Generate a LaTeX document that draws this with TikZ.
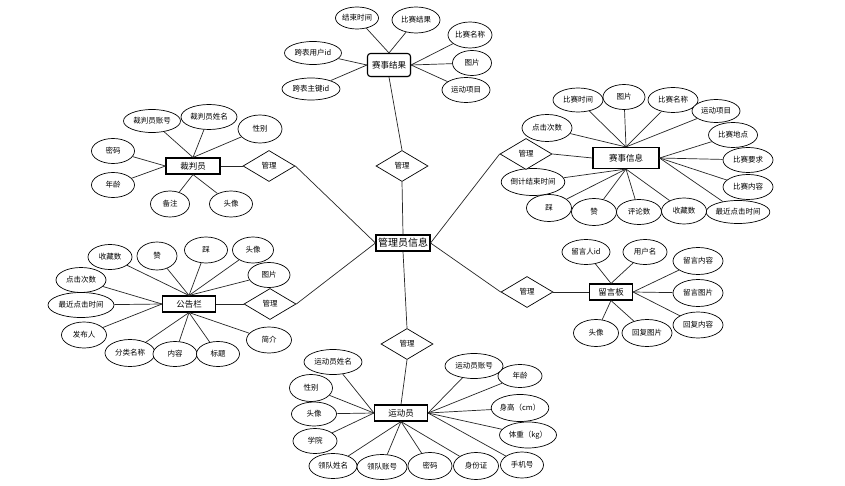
\documentclass[tikz,border=0pt]{standalone}
\usepackage{fontspec}
\newfontfamily\cjk{Noto Sans CJK SC}
\usetikzlibrary{shapes.geometric,shadows}
\tikzset{
  attr/.style={ellipse, draw=black, fill=white, line width=0.7pt, inner sep=0pt,
    minimum width=45pt, minimum height=25pt, font=\cjk\fontsize{7.5}{8}\selectfont},
  ent/.style={rectangle, draw=black, fill=white, line width=1.1pt, inner sep=0pt,
    minimum height=16pt, font=\cjk\fontsize{8.5}{9}\selectfont,
    drop shadow={shadow xshift=0.8pt, shadow yshift=-0.8pt, opacity=0.35}},
  rel/.style={diamond, draw=black, fill=white, line width=0.7pt, inner sep=0pt,
    minimum width=52pt, minimum height=31pt, font=\cjk\fontsize{7.5}{8}\selectfont},
  lnk/.style={draw=black!85, line width=0.7pt},
}
\begin{document}
\begin{tikzpicture}[x=1pt,y=-1pt]
\useasboundingbox[fill=white] (0,0) rectangle (845,486);

% centre
\node[ent, minimum width=54pt, font=\cjk\fontsize{10}{11}\selectfont] (admin) at (403,243) {管理员信息};

% ---------- 赛事结果 ----------
\node[ent, rounded corners=3pt, minimum width=43pt, minimum height=23pt] (ssjg) at (389,65) {赛事结果};
\node[attr, minimum width=43pt, minimum height=22pt] (js) at (357,18) {结束时间};
\node[attr, minimum width=48pt, minimum height=26pt] (bsjg) at (416,20) {比赛结果};
\node[attr, minimum width=44pt, minimum height=26pt] (bsmcA) at (470,35) {比赛名称};
\node[attr, minimum width=39pt, minimum height=25pt] (tpA) at (472,63) {图片};
\node[attr, minimum width=48pt, minimum height=25pt] (ydxmA) at (466,90) {运动项目};
\node[attr, minimum width=57pt, minimum height=23pt] (kbyh) at (313,53) {跨表用户id};
\node[attr, minimum width=58pt, minimum height=22pt] (kbzj) at (311,89) {跨表主键id};
\node[rel] (rA) at (402,166) {管理};
\draw[lnk] (js) -- (ssjg.north);
\draw[lnk] (bsjg) -- (ssjg.north);
\draw[lnk] (kbyh) -- (ssjg.west);
\draw[lnk] (kbzj) -- (ssjg.west);
\draw[lnk] (bsmcA) -- (ssjg.east);
\draw[lnk] (tpA) -- (ssjg.east);
\draw[lnk] (ydxmA) -- (ssjg.east);
\draw[lnk] (ssjg.south) -- (rA.north);
\draw[lnk] (rA.south) -- (admin.north);

% ---------- 裁判员 ----------
\node[ent, minimum width=54pt] (cpy) at (193,166) {裁判员};
\node[attr, minimum width=57pt, minimum height=23pt] (cpzh) at (152,121) {裁判员账号};
\node[attr, minimum width=56pt, minimum height=25pt] (cpxm) at (209,117) {裁判员姓名};
\node[attr, minimum width=44pt, minimum height=28pt] (xbB) at (260,129) {性别};
\node[attr, minimum width=43pt, minimum height=25pt] (mmB) at (113,151) {密码};
\node[attr, minimum width=43pt, minimum height=25pt] (nlB) at (113,185) {年龄};
\node[attr, minimum width=39pt, minimum height=26pt] (bz) at (170,204) {备注};
\node[attr, minimum width=43pt, minimum height=26pt] (txB) at (231,204) {头像};
\node[rel] (rB) at (269,166) {管理};
\draw[lnk] (cpzh) -- (cpy.north);
\draw[lnk] (cpxm) -- (cpy.north);
\draw[lnk] (xbB) -- (cpy.north);
\draw[lnk] (mmB) -- (cpy.west);
\draw[lnk] (nlB) -- (cpy.west);
\draw[lnk] (bz) -- (cpy.south);
\draw[lnk] (txB) -- (cpy.south);
\draw[lnk] (cpy.east) -- (rB.west);
\draw[lnk] (rB.east) -- (admin.west);

% ---------- 赛事信息 ----------
\node[ent, minimum width=66pt, minimum height=21pt] (ssxx) at (626,158) {赛事信息};
\node[attr, minimum width=50pt, minimum height=24pt] (bssj) at (578,100) {比赛时间};
\node[attr, minimum width=42pt, minimum height=25pt] (tpC) at (624,97) {图片};
\node[attr, minimum width=50pt, minimum height=25pt] (bsmcC) at (673,100) {比赛名称};
\node[attr, minimum width=48pt, minimum height=23pt] (ydxmC) at (716,111) {运动项目};
\node[attr, minimum width=50pt, minimum height=27pt] (djcsC) at (547,128) {点击次数};
\node[attr, minimum width=49pt, minimum height=25pt] (bsdd) at (733,135) {比赛地点};
\node[attr, minimum width=50pt, minimum height=25pt] (bsyq) at (748,160) {比赛要求};
\node[attr, minimum width=50pt, minimum height=25pt] (bsnr) at (748,187) {比赛内容};
\node[attr, minimum width=63pt, minimum height=23pt] (zjdjC) at (738,212) {最近点击时间};
\node[attr, minimum width=45pt, minimum height=26pt] (scsC) at (684,211) {收藏数};
\node[attr, minimum width=45pt, minimum height=25pt] (pls) at (639,212) {评论数};
\node[attr, minimum width=45pt, minimum height=27pt] (zanC) at (594,212) {赞};
\node[attr, minimum width=45pt, minimum height=27pt] (caiC) at (549,208) {踩};
\node[attr, minimum width=61pt, minimum height=27pt] (djs) at (533,182) {倒计结束时间};
\node[rel] (rC) at (526,154) {管理};
\draw[lnk] (bssj) -- (ssxx.north);
\draw[lnk] (tpC) -- (ssxx.north);
\draw[lnk] (bsmcC) -- (ssxx.north);
\draw[lnk] (ydxmC) -- (ssxx.north);
\draw[lnk] (djcsC) -- (ssxx.north);
\draw[lnk] (bsdd) -- (ssxx.east);
\draw[lnk] (bsyq) -- (ssxx.east);
\draw[lnk] (bsnr) -- (ssxx.east);
\draw[lnk] (zjdjC) -- (ssxx.east);
\draw[lnk] (djs) -- (ssxx.south);
\draw[lnk] (caiC) -- (ssxx.south);
\draw[lnk] (zanC) -- (ssxx.south);
\draw[lnk] (pls) -- (ssxx.south);
\draw[lnk] (scsC) -- (ssxx.south);
\draw[lnk] (rC.east) -- (ssxx.west);
\draw[lnk] (rC.west) -- (admin.east);

% ---------- 公告栏 ----------
\node[ent, minimum width=53pt] (ggl) at (189,304) {公告栏};
\node[attr, minimum width=44pt, minimum height=25pt] (scsD) at (110,257) {收藏数};
\node[attr, minimum width=40pt, minimum height=28pt] (zanD) at (157,256) {赞};
\node[attr, minimum width=43pt, minimum height=26pt] (caiD) at (206,250) {踩};
\node[attr, minimum width=41pt, minimum height=26pt] (txD) at (253,250) {头像};
\node[attr, minimum width=42pt, minimum height=25pt] (tpD) at (269,275) {图片};
\node[attr, minimum width=50pt, minimum height=25pt] (djcsD) at (81,280) {点击次数};
\node[attr, minimum width=66pt, minimum height=25pt] (zjdjD) at (81,305) {最近点击时间};
\node[attr, minimum width=45pt, minimum height=26pt] (fbr) at (84,335) {发布人};
\node[attr, minimum width=50pt, minimum height=27pt] (flmc) at (130,353) {分类名称};
\node[attr, minimum width=44pt, minimum height=25pt] (nrD) at (175,354) {内容};
\node[attr, minimum width=43pt, minimum height=25pt] (bt) at (218,354) {标题};
\node[attr, minimum width=45pt, minimum height=26pt] (jj) at (269,340) {简介};
\node[rel] (rD) at (270,304) {管理};
\draw[lnk] (scsD) -- (ggl.north);
\draw[lnk] (zanD) -- (ggl.north);
\draw[lnk] (caiD) -- (ggl.north);
\draw[lnk] (txD) -- (ggl.north);
\draw[lnk] (tpD) -- (ggl.north);
\draw[lnk] (djcsD) -- (ggl.west);
\draw[lnk] (zjdjD) -- (ggl.west);
\draw[lnk] (fbr) -- (ggl.west);
\draw[lnk] (flmc) -- (ggl.south);
\draw[lnk] (nrD) -- (ggl.south);
\draw[lnk] (bt) -- (ggl.south);
\draw[lnk] (jj) -- (ggl.south);
\draw[lnk] (ggl.east) -- (rD.west);
\draw[lnk] (rD.east) -- (admin.west);

% ---------- 留言板 ----------
\node[ent, minimum width=43pt] (lyb) at (611,292) {留言板};
\node[attr, minimum width=48pt, minimum height=25pt] (lyr) at (586,252) {留言人id};
\node[attr, minimum width=44pt, minimum height=25pt] (yhm) at (645,252) {用户名};
\node[attr, minimum width=50pt, minimum height=27pt] (lynr) at (698,261) {留言内容};
\node[attr, minimum width=50pt, minimum height=27pt] (lytp) at (698,293) {留言图片};
\node[attr, minimum width=50pt, minimum height=26pt] (hfnr) at (698,325) {回复内容};
\node[attr, minimum width=45pt, minimum height=27pt] (txE) at (596,333) {头像};
\node[attr, minimum width=50pt, minimum height=27pt] (hftp) at (647,333) {回复图片};
\node[rel] (rE) at (527,292) {管理};
\draw[lnk] (lyr) -- (lyb.north);
\draw[lnk] (yhm) -- (lyb.north);
\draw[lnk] (lynr) -- (lyb.east);
\draw[lnk] (lytp) -- (lyb.east);
\draw[lnk] (hfnr) -- (lyb.east);
\draw[lnk] (txE) -- (lyb.south);
\draw[lnk] (hftp) -- (lyb.south);
\draw[lnk] (rE.east) -- (lyb.west);
\draw[lnk] (rE.west) -- (admin.east);

% ---------- 运动员 ----------
\node[ent, minimum width=53pt] (ydy) at (401,413) {运动员};
\node[rel] (rF) at (407,344) {管理};
\node[attr, minimum width=58pt, minimum height=25pt] (ydyxm) at (333,362) {运动员姓名};
\node[attr, minimum width=43pt, minimum height=27pt] (xbF) at (311,388) {性别};
\node[attr, minimum width=45pt, minimum height=24pt] (txF) at (314,414) {头像};
\node[attr, minimum width=44pt, minimum height=25pt] (xy) at (315,441) {学院};
\node[attr, minimum width=48pt, minimum height=25pt] (ldxm) at (333,466) {领队姓名};
\node[attr, minimum width=50pt, minimum height=25pt] (ldzh) at (382,467) {领队账号};
\node[attr, minimum width=44pt, minimum height=27pt] (mmF) at (430,466) {密码};
\node[attr, minimum width=45pt, minimum height=27pt] (sfz) at (476,466) {身份证};
\node[attr, minimum width=43pt, minimum height=26pt] (sjh) at (522,465) {手机号};
\node[attr, minimum width=57pt, minimum height=26pt] (tz) at (528,435) {体重（kg）};
\node[attr, minimum width=54pt, minimum height=27pt] (sg) at (520,408) {身高（cm）};
\node[attr, minimum width=44pt, minimum height=23pt] (nlF) at (520,376) {年龄};
\node[attr, minimum width=58pt, minimum height=25pt] (ydyzh) at (474,366) {运动员账号};
\draw[lnk] (admin.south) -- (rF.north);
\draw[lnk] (rF.south) -- (ydy.north);
\draw[lnk] (ydyxm) -- (ydy.west);
\draw[lnk] (xbF) -- (ydy.west);
\draw[lnk] (txF) -- (ydy.west);
\draw[lnk] (xy) -- (ydy.west);
\draw[lnk] (ldxm) -- (ydy.south);
\draw[lnk] (ldzh) -- (ydy.south);
\draw[lnk] (mmF) -- (ydy.south);
\draw[lnk] (sfz) -- (ydy.south);
\draw[lnk] (ydyzh) -- (ydy.east);
\draw[lnk] (nlF) -- (ydy.east);
\draw[lnk] (sg) -- (ydy.east);
\draw[lnk] (tz) -- (ydy.east);
\draw[lnk] (sjh) -- (ydy.east);
\end{tikzpicture}
\end{document}
